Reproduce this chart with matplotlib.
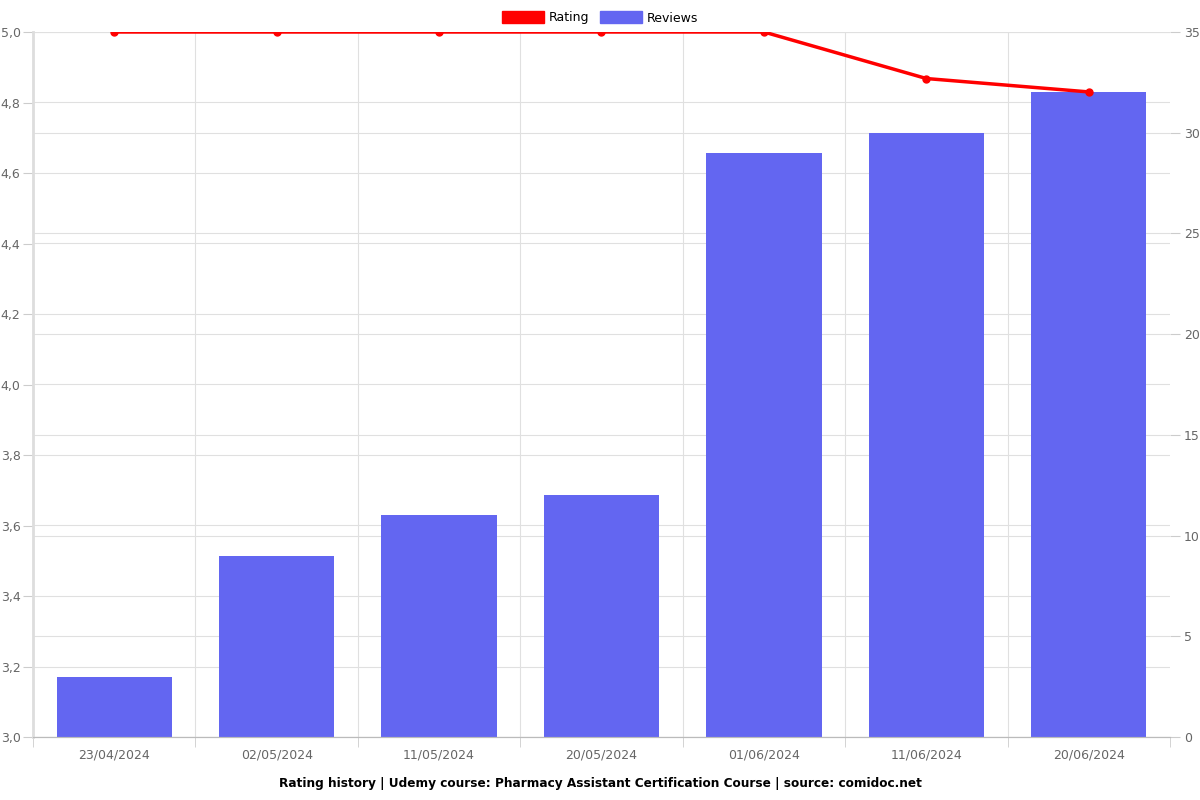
import numpy as np
import matplotlib.pyplot as plt
from matplotlib.patches import Patch
from matplotlib.ticker import FuncFormatter

dates = ['23/04/2024', '02/05/2024', '11/05/2024', '20/05/2024',
         '01/06/2024', '11/06/2024', '20/06/2024']
reviews = [3, 9, 11, 12, 29, 30, 32]
rating = [5.0, 5.0, 5.0, 5.0, 5.0, 4.868, 4.83]

bar_color = '#6366F1'
line_color = '#FF0000'
grid_color = '#E0E0E0'
text_color = '#666666'

fig = plt.figure(figsize=(12, 8), dpi=100)
ax = fig.add_axes([0.0275, 0.07875, 0.9475, 0.88125])
ax2 = ax.twinx()

x = np.arange(len(dates))
r_lo, r_hi = 3.0, 5.0
rev_max = 35

# bars on the right axis
ax2.bar(x, reviews, width=0.71, color=bar_color, zorder=2)
ax2.set_ylim(0, rev_max)
ax2.set_yticks(np.arange(0, 36, 5))

# rating line on the left axis (drawn above the bars)
ax.set_zorder(ax2.get_zorder() + 1)
ax.patch.set_visible(False)
ax.plot(x, rating, color=line_color, lw=2.5, marker='o', ms=5, zorder=3)
ax.set_ylim(r_lo, r_hi)
left_ticks = np.arange(3.0, 5.01, 0.2)
ax.set_yticks(left_ticks)
ax.yaxis.set_major_formatter(FuncFormatter(lambda v, p: f'{v:.1f}'.replace('.', ',')))

ax.set_xlim(-0.5, len(dates) - 0.5)
ax.set_xticks(x)
ax.set_xticklabels(dates)
ax.set_xticks(np.arange(-0.5, len(dates), 1), minor=True)
ax.tick_params(axis='x', which='major', length=0, pad=8, labelsize=9, labelcolor=text_color)
ax.tick_params(axis='x', which='minor', length=7, color='#CCCCCC')
ax.tick_params(axis='y', length=7, color='#CCCCCC', labelsize=9, labelcolor=text_color, pad=2)
ax2.tick_params(axis='y', length=7, color='#CCCCCC', labelsize=9, labelcolor=text_color, pad=3)

# grids, all drawn behind the bars on the lower axes
for v in left_ticks:
    ax2.axhline((v - r_lo) / (r_hi - r_lo) * rev_max, color=grid_color, lw=0.8, zorder=0)
for v in np.arange(0, 36, 5):
    ax2.axhline(v, color=grid_color, lw=0.8, zorder=0)
for v in np.arange(0.5, len(dates) - 1, 1):
    ax2.axvline(v, color=grid_color, lw=0.8, zorder=0)

for a in (ax, ax2):
    a.spines['top'].set_visible(False)
    a.spines['right'].set_visible(False)
    a.spines['left'].set_visible(False)
    a.spines['bottom'].set_color('#BBBBBB')
ax.spines['left'].set_visible(True)
ax.spines['left'].set_color('#DDDDDD')
ax.spines['left'].set_linewidth(2)

handles = [Patch(color=line_color, label='Rating'), Patch(color=bar_color, label='Reviews')]
fig.legend(handles=handles, loc='upper center', bbox_to_anchor=(0.5, 1.0), ncol=2,
           frameon=False, fontsize=9, handlelength=3.4, handleheight=1.1,
           columnspacing=0.8, handletextpad=0.4)

fig.text(0.5, 0.021, 'Rating history | Udemy course: Pharmacy Assistant Certification Course | source: comidoc.net',
         ha='center', va='center', fontsize=8.7, fontweight='bold')

fig.savefig('out.png', dpi=100)
